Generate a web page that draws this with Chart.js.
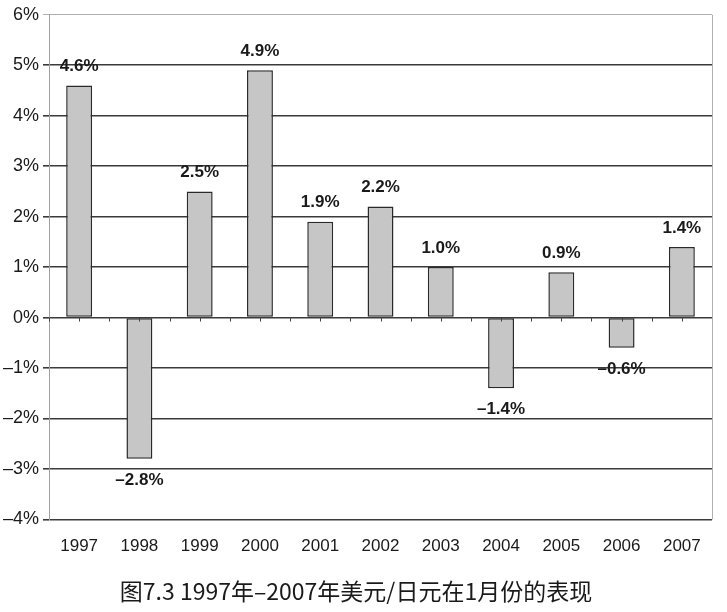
<!DOCTYPE html>
<html>
<head>
<meta charset="utf-8">
<script src="https://cdn.jsdelivr.net/npm/chart.js@4"></script>
<style>
html,body{margin:0;padding:0;background:#fff;}
#wrap{width:727px;height:612px;position:relative;}
</style>
</head>
<body>
<div id="wrap"><canvas id="c"></canvas></div>
<script>
const categories = ['1997','1998','1999','2000','2001','2002','2003','2004','2005','2006','2007'];
const values = [4.6, -2.8, 2.5, 4.9, 1.9, 2.2, 1.0, -1.4, 0.9, -0.6, 1.4];
const valueLabels = ['4.6%','–2.8%','2.5%','4.9%','1.9%','2.2%','1.0%','–1.4%','0.9%','–0.6%','1.4%'];
const yMin = -4, yMax = 6, yStep = 1;
const titleText = '图7.3 1997年–2007年美元/日元在1月份的表现';

const barLabelPlugin = {
  id: 'barLabels',
  afterDatasetsDraw(chart) {
    const ctx = chart.ctx;
    const meta = chart.getDatasetMeta(0);
    ctx.save();
    ctx.font = 'bold 17px "Liberation Sans", Arial, sans-serif';
    ctx.fillStyle = '#1a1a1a';
    ctx.textAlign = 'center';
    ctx.textBaseline = 'middle';
    meta.data.forEach((bar, i) => {
      const v = values[i];
      const y = v >= 0 ? bar.y - 19 : bar.y + 21;
      ctx.fillText(valueLabels[i], bar.x, y);
    });
    ctx.restore();
  }
};

const framePlugin = {
  id: 'frame',
  afterDatasetsDraw(chart) {
    const ctx = chart.ctx;
    const area = chart.chartArea;
    const xs = chart.scales.x;
    const ys = chart.scales.y;
    const y0 = ys.getPixelForValue(0);
    ctx.save();
    ctx.strokeStyle = '#b0b0b0';
    ctx.lineWidth = 1;
    ctx.beginPath();
    ctx.moveTo(area.right + 0.5, area.top);
    ctx.lineTo(area.right + 0.5, area.bottom);
    ctx.stroke();
    ctx.strokeStyle = '#444';
    ctx.lineWidth = 1;
    ctx.beginPath();
    const half = (xs.getPixelForValue(1) - xs.getPixelForValue(0)) / 2;
    for (let i = 0; i < categories.length; i++) {
      const c = xs.getPixelForValue(i);
      [c - half, c].forEach(px => {
        ctx.moveTo(Math.round(px) + 0.5, y0);
        ctx.lineTo(Math.round(px) + 0.5, y0 + 4);
      });
    }
    ctx.stroke();
    ctx.restore();
  }
};

new Chart(document.getElementById('c'), {
  type: 'bar',
  data: {
    labels: categories,
    datasets: [{
      data: values,
      backgroundColor: '#c6c6c6',
      borderColor: '#2a2a2a',
      borderWidth: 1.5,
      borderSkipped: false,
      categoryPercentage: 1,
      barPercentage: 0.43
    }]
  },
  options: {
    responsive: true,
    maintainAspectRatio: false,
    animation: false,
    layout: { padding: { top: -3, right: 15, left: 0, bottom: 0 } },
    plugins: {
      legend: { display: false },
      tooltip: { enabled: false },
      title: {
        display: true,
        text: titleText,
        position: 'bottom',
        color: '#1a1a1a',
        font: { family: '"Noto Sans CJK SC", sans-serif', size: 23, weight: 'normal' },
        padding: { top: 8, bottom: 7 }
      }
    },
    scales: {
      x: {
        grid: { display: false },
        border: { display: false },
        ticks: {
          color: '#1a1a1a',
          padding: 9,
          maxRotation: 0,
          autoSkip: false,
          font: { family: '"Liberation Sans", Arial, sans-serif', size: 17 }
        },
        afterFit(axis) { axis.height = 50; }
      },
      y: {
        min: yMin,
        max: yMax,
        afterFit(axis) { axis.width = 49; },
        grid: {
          color: ctx => (ctx.tick && ctx.tick.value === yMax) ? '#b0b0b0' : '#3a3a3a',
          lineWidth: ctx => (ctx.tick && ctx.tick.value === yMax) ? 1 : 1.6,
          tickLength: 6,
          drawTicks: true
        },
        border: { display: true, color: '#a0a0a0', width: 1 },
        ticks: {
          stepSize: yStep,
          padding: 4,
          color: '#1a1a1a',
          font: { family: '"Liberation Sans", Arial, sans-serif', size: 18 },
          callback: v => (v < 0 ? '–' + Math.abs(v) : v) + '%'
        }
      }
    }
  },
  plugins: [barLabelPlugin, framePlugin]
});
</script>
</body>
</html>
